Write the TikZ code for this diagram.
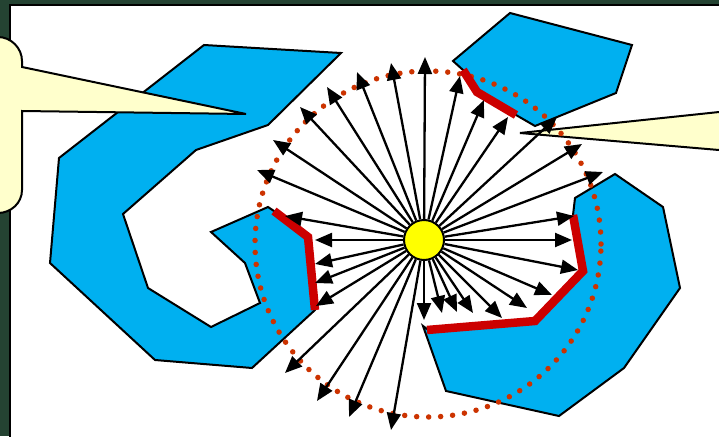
\documentclass[tikz,border=0pt]{standalone}
\usetikzlibrary{arrows.meta}
\definecolor{framegreen}{HTML}{244332}
\definecolor{shapeblue}{HTML}{00B0F0}
\definecolor{calloutyellow}{HTML}{FFFFCC}
\definecolor{sunyellow}{HTML}{FFFF00}
\definecolor{edgered}{HTML}{CC0000}
\definecolor{dotred}{HTML}{CC3300}
\tikzset{
  blob/.style={fill=shapeblue, draw=black, line width=2pt},
  callout/.style={fill=calloutyellow, draw=black, line width=2pt},
  litedge/.style={draw=edgered, line width=8.5pt},
  dotring/.style={draw=dotred, line width=5.5pt, line cap=round, dash pattern=on 0pt off 12pt},
  sunnode/.style={circle, fill=sunyellow, draw=black, line width=2pt, minimum size=40pt, inner sep=0pt},
  ray/.style={draw=black, line width=2.3pt, -{Triangle[length=17pt,width=14pt]}}
}
\begin{document}
\begin{tikzpicture}[x=1pt,y=-1pt]
\useasboundingbox (0,0) rectangle (719,436);
\clip (0,0) rectangle (719,436);
% frame
\fill[framegreen] (0,0) rectangle (719,436);
\draw[fill=white, line width=2pt] (10,5) rectangle (740,460);
% blue shapes
\draw[blob] (204,45) -- (341,53) -- (268,125) -- (196,150) -- (123,214) -- (148,288) -- (211,327) -- (260,303) -- (245,263) -- (211,232) -- (268,207) -- (274,211) -- (308,237) -- (315,310) -- (252,368) -- (155,360) -- (50,263) -- (59,158) -- cycle;
\draw[blob] (453,61) -- (510,13) -- (632,45) -- (616,93) -- (535,126) -- (516,115) -- (477,92) -- (463,70) -- cycle;
\draw[blob] (575,198) -- (615,174) -- (663,207) -- (680,288) -- (624,368) -- (559,416) -- (446,391) -- (423,326) -- (427,329) -- (535,321) -- (584,271) -- (573,215) -- cycle;
% callouts
\draw[callout] (-30,37) -- (-2,37) .. controls (11,37) and (22,48) .. (22,61) -- (22,67) -- (246,114) -- (22,111) -- (22,190) .. controls (22,203) and (11,213) .. (-2,213) -- (-30,213) -- cycle;
\draw[callout] (740,109.8) -- (520,133) -- (740,151.8) -- (760,151.8) -- (760,109.8) -- cycle;
% dotted ring
\draw[dotring] (428,244) circle[radius=173pt];
% lit edges
\draw[litedge] (274,211) -- (308,237) -- (315,310);
\draw[litedge] (463,70) -- (477,92) -- (516,115);
\draw[litedge] (573,215) -- (583,271) -- (535,321) -- (427,330);
% sun
\node[sunnode] (sun) at (424,240) {};
% ray tips
\foreach \px/\py [count=\i] in {257/170,273/140,300/107,327/87,357/72,391/63,425/57,460/76,484/100,508/117,557/117,582/144,603/172,574/216,572/240,578/270,552/295,527/308,502/318,473/313,457/312,442/313,424/320,391/430,349/417,317/401,285/373,316/306,315/283,315/264,315/240,285/216}
  \coordinate (t\i) at (\px,\py);
\foreach \i in {1,...,32}
  \draw[ray] (sun) -- (t\i);
\end{tikzpicture}
\end{document}
